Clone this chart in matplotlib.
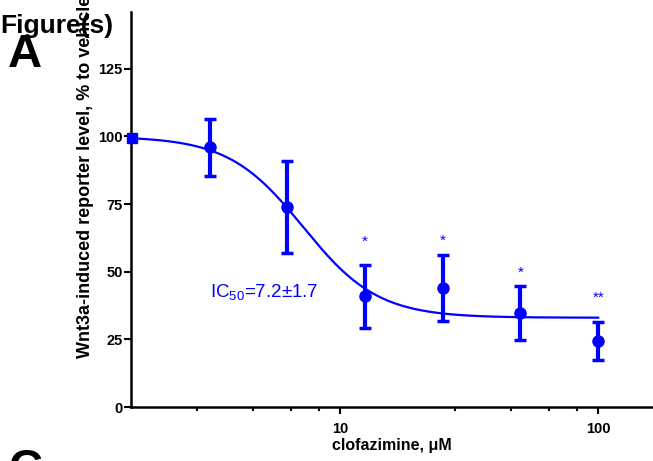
import numpy as np
import matplotlib
matplotlib.use("Agg")
import matplotlib.pyplot as plt

plt.rcParams['font.family'] = ['Liberation Sans', 'DejaVu Sans']
plt.rcParams['mathtext.fontset'] = 'custom'
plt.rcParams['mathtext.rm'] = 'Liberation Sans'
plt.rcParams['mathtext.it'] = 'Liberation Sans:italic'

# data
conc = [1.5625, 3.125, 6.25, 12.5, 25, 50, 100]
resp = [99.3, 96.0, 73.9, 40.9, 44.0, 34.7, 24.4]
err = [0, 10.6, 17.0, 11.6, 12.3, 9.9, 6.9]
stars = ['', '', '', '*', '*', '*', '**']
star_y = [0, 0, 0, 61.0, 61.5, 49.5, 40.5]

# fitted curve parameters
ic50 = 7.2
top = 100
bottom = 33
hill = 3.0

xticks = [10, 100]
minor_ticks = [2.8, 4.6, 6.45, 8.3, 28, 46, 64.5, 83]
yticks = [0, 25, 50, 75, 100, 125]

blue = '#0000ff'

fig = plt.figure(figsize=(6.53, 4.61), dpi=100)
ax = fig.add_axes([131/653, 1-407/461, 1-131/653, (407-12)/461])

xs = np.logspace(np.log10(conc[0]), np.log10(conc[-1]), 300)
ys = bottom + (top - bottom) / (1 + (xs / ic50) ** hill)
ax.plot(xs, ys, color=blue, lw=1.6, clip_on=False)

ax.errorbar(conc[1:], resp[1:], yerr=err[1:], fmt='o', color=blue, ms=8,
            elinewidth=3, capsize=4.5, capthick=2.5)
ax.plot(conc[0], resp[0], 's', color=blue, ms=7, clip_on=False, zorder=5)

for x, s, y in zip(conc, stars, star_y):
    if s:
        ax.text(x, y, s, color=blue, fontsize=11, ha='center', va='center')

ax.text(210/653, 1-296.7/461, r'IC$_{50}$=7.2$\pm$1.7', color=blue, fontsize=13.5,
        transform=fig.transFigure, ha='left', va='baseline')

ax.set_xscale('log')
ax.set_xlim(1.55, 163)
ax.set_ylim(0, 146)
ax.set_xticks(xticks)
ax.set_xticklabels([str(t) for t in xticks], fontweight='bold', fontsize=10.5)
ax.set_xticks(minor_ticks, minor=True)
ax.set_xticklabels([], minor=True)
ax.set_yticks(yticks)
ax.set_yticklabels([str(t) for t in yticks], fontweight='bold', fontsize=10.5)
ax.tick_params(axis='y', which='major', length=5, width=1.5, pad=1)
ax.tick_params(axis='x', which='major', length=5, width=1.5, pad=6)
ax.tick_params(axis='x', which='minor', length=3, width=1.5)
for side in ['top', 'right']:
    ax.spines[side].set_visible(False)
for side in ['left', 'bottom']:
    ax.spines[side].set_linewidth(1.8)

ax.set_xlabel('clofazimine, μM', fontweight='bold', fontsize=11.5, labelpad=1)

fig.text(86/653, 1-358/461, 'Wnt3a-induced reporter level, % to vehicle',
         rotation=90, fontweight='bold', fontsize=13, ha='center', va='bottom')

fig.text(0, 1-33/461, 'Figure(s)', fontweight='bold', fontsize=19, ha='left', va='baseline')
fig.text(8/653, 1-67/461, 'A', fontweight='bold', fontsize=34, ha='left', va='baseline')
fig.text(8/653, 1-482/461, 'C', fontweight='bold', fontsize=34, ha='left', va='baseline')

fig.savefig('out.png', dpi=100)
